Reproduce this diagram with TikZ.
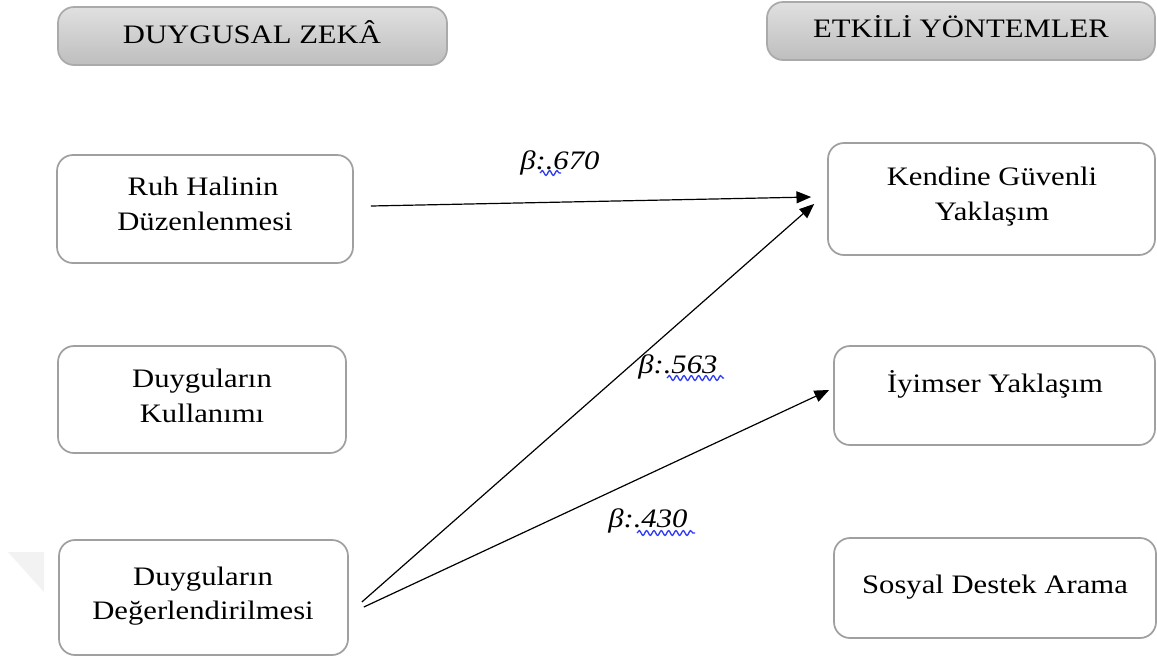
\documentclass[tikz,border=0pt]{standalone}
\usepackage{fontspec}
\setmainfont{Liberation Serif}[FakeStretch=1.15]
\usetikzlibrary{arrows.meta,calc,decorations.pathmorphing}
\definecolor{boxline}{HTML}{A0A0A0}
\definecolor{headtop}{HTML}{E0E0E0}
\definecolor{headbot}{HTML}{BEBEBE}
\definecolor{spell}{HTML}{2F3BF5}
\tikzset{
  card/.style={draw=boxline, line width=1.3pt, rounded corners=12pt, fill=white, inner sep=0pt},
  header/.style={card, draw=boxline!90, top color=headtop, bottom color=headbot},
  lbl/.style={anchor=base, inner sep=0pt, font=\fontsize{20}{26}\selectfont},
  coef/.style={anchor=base west, inner sep=0pt, font=\fontsize{20}{26}\selectfont\itshape},
  link/.style={line width=0.9pt, -{Triangle[length=11pt,width=9pt]}},
  squiggle/.style={spell, line width=1pt, decorate, decoration={snake, amplitude=1.8pt, segment length=5.5pt}}
}
\begin{document}
\begin{tikzpicture}[x=0.75pt,y=-0.75pt]
\useasboundingbox (0,0) rectangle (1157,662);
\fill[white] (0,0) rectangle (1157,662);

% faint mark at the left edge
\fill[black!5] (8,552) -- (44,552) -- (44,592) -- cycle;

% column headers
\node[header, minimum width=291.75pt, minimum height=43.5pt] (h1) at (252.5,36) {};
\node[lbl] (h1t) at (252,43) {DUYGUSAL ZEKÂ};
\node[header, minimum width=291pt, minimum height=43.5pt] (h2) at (961,31) {};
\node[lbl] (h2t) at (961,37) {ETKİLİ YÖNTEMLER};

% left column
\node[card, minimum width=222pt, minimum height=81pt] (rh) at (205,209) {};
\node[lbl] (rh1) at (203,195) {Ruh Halinin};
\node[lbl] (rh2) at (205,230) {Düzenlenmesi};

\node[card, minimum width=216pt, minimum height=80.25pt] (dk) at (202,399.5) {};
\node[lbl] (dk1) at (202,387) {Duyguların};
\node[lbl] (dk2) at (202,422) {Kullanımı};

\node[card, minimum width=216.75pt, minimum height=86.25pt] (dg) at (203.5,597.5) {};
\node[lbl] (dg1) at (203,585) {Duyguların};
\node[lbl] (dg2) at (203,619) {Değerlendirilmesi};

% right column
\node[card, minimum width=245.25pt, minimum height=84pt] (kg) at (991.5,199) {};
\node[lbl] (kg1) at (992,185) {Kendine Güvenli};
\node[lbl] (kg2) at (992,220) {Yaklaşım};

\node[card, minimum width=240.75pt, minimum height=74.25pt] (iy) at (994.5,395.5) {};
\node[lbl] (iy1) at (995,392) {İyimser Yaklaşım};

\node[card, minimum width=241.5pt, minimum height=75pt] (sd) at (995,588) {};
\node[lbl] (sd1) at (995,593) {Sosyal Destek Arama};

% paths
\draw[link] ($(rh.east)+(17,-3)$) -- ($(kg.west)+(-16,-2)$);
\draw[link] ($(dg.east)+(13,4.5)$) -- ($(kg.west)+(-13,5)$);
\draw[link] ($(dg.east)+(15,9.5)$) -- ($(iy.west)+(-4,-5.5)$);

% coefficients
\node[coef] (b1) at (520,169) {β:.670};
\node[coef] (b2) at (638,373) {β:.563};
\node[coef] (b3) at (608,527) {β:.430};
\draw[squiggle] (540,173) -- (561,173);
\draw[squiggle] (667,378) -- (724,378);
\draw[squiggle] (637,533) -- (695,533);
\end{tikzpicture}
\end{document}
